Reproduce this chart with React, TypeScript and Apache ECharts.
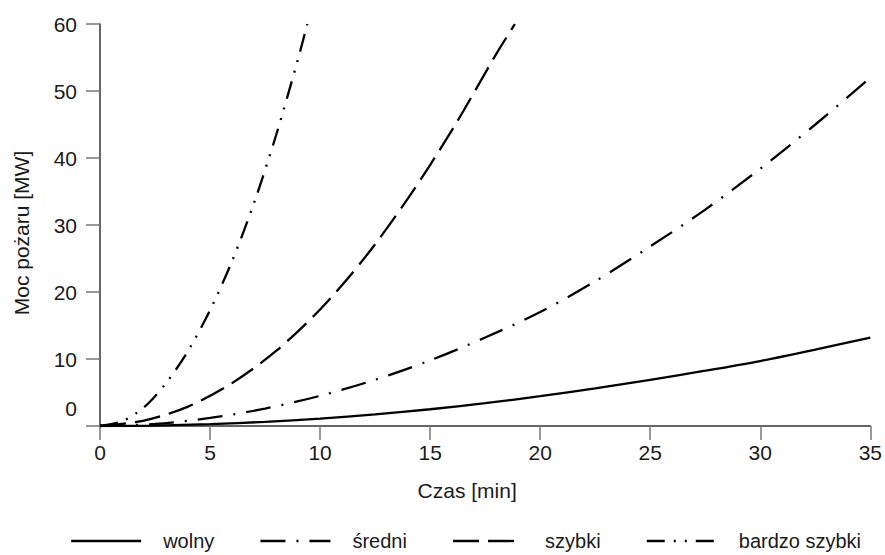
import React, { useEffect, useRef } from "react";
import * as echarts from "echarts";

const seriesNames = ["wolny", "średni", "szybki", "bardzo szybki"];

const wolnyT = [0, 2.5, 5, 7.5, 10, 12.5, 15, 17.5, 20, 22.5, 25, 27.5, 30, 32.5, 35];
const wolnyQ = [0, 0.07, 0.27, 0.62, 1.1, 1.75, 2.5, 3.4, 4.45, 5.6, 6.9, 8.25, 9.7, 11.4, 13.2];

const sredniT = [0, 2.5, 5, 7.5, 10, 12.5, 15, 17.5, 20, 22.5, 25, 27.5, 30, 32.5, 35];
const sredniQ = [0, 0.3, 1.2, 2.6, 4.5, 6.9, 9.8, 13.2, 17.0, 21.6, 26.8, 32.3, 38.4, 45.0, 52.0];

const szybkiT = [0, 2, 4, 6, 8, 10, 12, 14, 16, 18, 18.85];
const szybkiQ = [0, 0.8, 2.9, 6.4, 11.2, 17.4, 25.0, 34.0, 44.2, 55.5, 60];

const bardzoT = [0, 1, 2, 3, 4, 5, 6, 7, 8, 9, 9.42];
const bardzoQ = [0, 0.7, 2.8, 6.4, 11.2, 17.3, 24.6, 33.3, 43.4, 54.8, 60];

const xTicks = [0, 5, 10, 15, 20, 25, 30, 35];
const yTicks = [0, 10, 20, 30, 40, 50, 60];

const FONT = "'Liberation Sans', Arial, Helvetica, sans-serif";

function pairs(t: number[], q: number[]) {
  return t.map((v, i) => [v, q[i]]);
}

export default function App() {
  const ref = useRef<HTMLDivElement>(null);

  useEffect(() => {
    if (!ref.current) return;
    const chart = echarts.init(ref.current, undefined, { renderer: "svg" });
    const dashes: (number[] | "solid")[] = [
      "solid",
      [25, 11, 2, 11],
      [26, 9],
      [18, 9, 2, 9, 2, 9],
    ];
    const data = [
      pairs(wolnyT, wolnyQ),
      pairs(sredniT, sredniQ),
      pairs(szybkiT, szybkiQ),
      pairs(bardzoT, bardzoQ),
    ];
    chart.setOption({
      animation: false,
      backgroundColor: "#ffffff",
      grid: { left: 100, right: 14, top: 24, bottom: 129 },
      legend: {
        left: 65,
        top: 526,
        padding: 5,
        itemWidth: 70,
        itemHeight: 18,
        itemGap: 45,
        data: seriesNames,
        itemStyle: {
          color: "rgba(0,0,0,0)",
          borderColor: "rgba(0,0,0,0)",
          borderWidth: 0,
          opacity: 0,
        },
        lineStyle: { width: 2.3 },
        textStyle: {
          fontFamily: FONT,
          fontSize: 20,
          color: "#1a1a1a",
          padding: [0, 0, 0, 17],
        },
      },
      xAxis: {
        type: "value",
        min: xTicks[0],
        max: xTicks[xTicks.length - 1],
        interval: 5,
        name: "Czas [min]",
        nameLocation: "middle",
        nameGap: 54,
        nameTextStyle: {
          fontFamily: FONT,
          fontSize: 21,
          color: "#1a1a1a",
          padding: [0, 36, 0, 0],
        },
        axisLine: { lineStyle: { color: "#333", width: 1.5 } },
        axisTick: { length: 14, lineStyle: { color: "#777", width: 1.5 } },
        axisLabel: { fontFamily: FONT, fontSize: 21, color: "#1a1a1a", margin: 16 },
        splitLine: { show: false },
      },
      yAxis: {
        type: "value",
        min: yTicks[0],
        max: yTicks[yTicks.length - 1],
        interval: 10,
        name: "Moc pożaru [MW]",
        nameLocation: "middle",
        nameGap: 68,
        nameTextStyle: {
          fontFamily: FONT,
          fontSize: 21,
          color: "#1a1a1a",
          padding: [0, 16, 0, 0],
        },
        axisLine: { show: true, lineStyle: { color: "#333", width: 1.5 } },
        axisTick: { show: true, length: 14, lineStyle: { color: "#777", width: 1.5 } },
        axisLabel: {
          fontFamily: FONT,
          fontSize: 21,
          color: "#1a1a1a",
          margin: 23,
          formatter: (v: number) => (v === 0 ? "" : String(v)),
        },
        splitLine: { show: false },
      },
      graphic: [
        {
          type: "text",
          x: 77,
          y: 408,
          style: {
            text: String(yTicks[0]),
            fontFamily: FONT,
            fontSize: 21,
            fill: "#1a1a1a",
            align: "right",
            verticalAlign: "middle",
          },
        },
      ],
      series: seriesNames.map((name, i) => ({
        name,
        type: "line",
        data: data[i],
        showSymbol: false,
        symbol: "none",
        smooth: 0.3,
        clip: true,
        lineStyle: { color: "#000", width: 2.3, type: dashes[i] },
        itemStyle: { color: "#000" },
      })),
    });
    return () => chart.dispose();
  }, []);

  return (
    <div
      ref={ref}
      style={{ position: "fixed", left: 0, top: 0, width: 885, height: 555 }}
    />
  );
}
